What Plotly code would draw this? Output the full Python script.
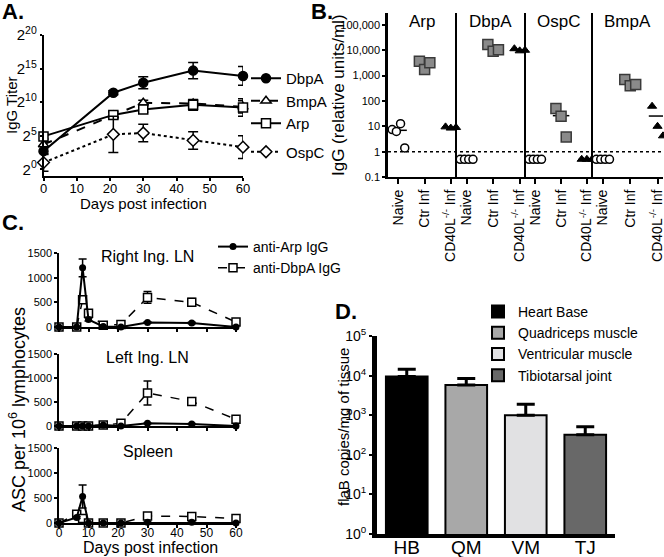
"""
Four panel figure: IgG titres over time (A), IgG per antigen and mouse group (B),
antibody secreting cells in lymph nodes / spleen (C) and flaB load per tissue (D).

Everything sits on one go.Figure. Panels get their own axes, placed in pixel
terms because the whole thing is a fixed 664x557 picture.
"""

import numpy as np
import plotly.graph_objects as go

W, H = 664, 557
FONT = "Liberation Sans, Arial, sans-serif"

# --- A: IgG titre (log2), days post infection ---
DAYS_A = [0, 21, 30, 45, 60]
DBPA_A = [2.7, 11.4, 12.9, 14.7, 13.9]
DBPA_A_SD = [0.5, 0.3, 0.9, 1.2, 1.4]
BMPA_A = [3.7, 8.0, 9.9, 9.8, 9.3]
BMPA_A_SD = [0.4, 0.5, 0.4, 0.5, 0.9]
ARP_A = [4.9, 8.1, 8.9, 9.6, 9.2]
ARP_A_SD = [0.4, 0.5, 0.4, 0.8, 1.3]
OSPC_A = [1.0, 5.2, 5.4, 4.3, 3.3]
OSPC_A_SD = [1.3, 2.7, 1.3, 1.3, 1.7]
LOG2_TICKS = [0, 5, 10, 15, 20]

# --- B: IgG (relative units/ml), one list per antigen inside each group ---
ANTIGENS_B = ["Arp", "DbpA", "OspC", "BmpA"]
GROUPS_B = ["Naive", "Ctr Inf", "CD40L<sup>-/-</sup> Inf"]
NAIVE_B = [[7.4, 6.3, 12.7, 1.4], [0.5, 0.5, 0.5, 0.5],
           [0.5, 0.5, 0.5, 0.5], [0.5, 0.5, 0.5, 0.5]]
CTR_B = [[3700, 1750, 3200], [17000, 9200, 10500], [50, 25, 3.8], [700, 400, 450]]
KO_B = [[9.5, 8.5, 9.0], [11500, 9500, 10000], [0.5, 0.5, 0.5], [62, 10, 4.2]]
DETECTION_LIMIT = 1
IGG_TICKS = [0.1, 1, 10, 100, 1000, 10000, 100000]
IGG_TICKTEXT = ["0.1", "1", "10", "100", "1,000", "10,000", "100,000"]

# --- C: ASC per 10^6 lymphocytes ---
DAYS_C = [0, 6, 8, 10, 15, 21, 30, 45, 60]
ORGANS_C = ["Right Ing. LN", "Left Ing. LN", "Spleen"]
RIGHT_ARP = [0, 0, 1200, 150, 10, 0, 90, 80, 0]
RIGHT_ARP_ERR = [0, 0, 180, 30, 5, 0, 15, 15, 0]
RIGHT_DBPA = [0, 0, 550, 280, 35, 50, 600, 500, 100]
RIGHT_DBPA_ERR = [0, 0, 60, 50, 10, 10, 120, 80, 20]
LEFT_ARP = [0, 0, 0, 0, 20, 0, 55, 40, 0]
LEFT_ARP_ERR = [0, 0, 0, 0, 5, 0, 10, 10, 0]
LEFT_DBPA = [0, 0, 0, 0, 20, 55, 690, 510, 140]
LEFT_DBPA_ERR = [0, 0, 0, 0, 5, 10, 250, 60, 25]
SPLEEN_ARP = [0, 110, 530, 0, 0, 0, 15, 15, 0]
SPLEEN_ARP_ERR = [0, 20, 230, 0, 0, 0, 5, 5, 0]
SPLEEN_DBPA = [0, 175, 90, 0, 0, 0, 140, 130, 90]
SPLEEN_DBPA_ERR = [0, 20, 20, 0, 0, 0, 10, 10, 10]

# --- D: flaB copies/mg of tissue ---
TISSUES = ["Heart Base", "Quadriceps muscle", "Ventricular muscle", "Tibiotarsal joint"]
TISSUE_CODES = ["HB", "QM", "VM", "TJ"]
FLAB = [9500, 5800, 1000, 320]
FLAB_SEM = [5000, 2700, 900, 190]
TISSUE_COLORS = ["#000000", "#a8a8a8", "#e1e1e3", "#686868"]

# horizontal spread of dots inside one category of panel B
JITTER = {3: [-0.2, 0.0, 0.2], 4: [-0.24, -0.08, 0.08, 0.24]}


def px_x(p):
    return p / W


def px_y(p):
    return 1 - p / H


def dom_x(left, right):
    return [px_x(left), px_x(right)]


def dom_y(top, bottom):
    return [px_y(bottom), px_y(top)]


def axis(size, **kw):
    d = dict(showgrid=False, zeroline=False, showline=True, linecolor="black",
             linewidth=1.5, ticks="outside", tickcolor="black", tickwidth=1.5,
             ticklen=4, tickfont=dict(family=FONT, size=size, color="black"))
    d.update(kw)
    return d


def note(text, x, y, size, **kw):
    d = dict(text=text, x=px_x(x), y=px_y(y), xref="paper", yref="paper",
             showarrow=False, xanchor="center", yanchor="middle",
             font=dict(family=FONT, size=size, color="black"))
    d.update(kw)
    return d


fig = go.Figure()
layout = {}
notes = []
shapes = []

# ---------------- A ----------------
series_a = [
    ("DbpA", DBPA_A, DBPA_A_SD, "circle", "black", "solid", "a1"),
    ("BmpA", BMPA_A, BMPA_A_SD, "triangle-up", "white", "dash", "a1"),
    ("Arp", ARP_A, ARP_A_SD, "square", "white", "solid", "a1"),
    ("OspC", OSPC_A, OSPC_A_SD, "diamond", "white", "dot", "a2"),
]
for name, y, sd, sym, fill, dash, grp in series_a:
    fig.add_trace(go.Scatter(
        x=DAYS_A, y=y, name=name, mode="lines+markers",
        error_y=dict(type="data", array=sd, color="black", thickness=1.5, width=5),
        line=dict(color="black", width=2, dash=dash),
        marker=dict(symbol=sym, size=9, color=fill, line=dict(color="black", width=1.5)),
        xaxis="x", yaxis="y", legend="legend", legendgroup=grp, cliponaxis=False,
    ))
layout["xaxis"] = axis(13, domain=dom_x(43.5, 243), range=[0, 60], anchor="y",
                       tick0=0, dtick=10, ticklen=3, ticklabelstandoff=-3)
layout["yaxis"] = axis(15, domain=dom_y(35, 176), range=[-1, 20], anchor="x",
                       tickvals=LOG2_TICKS, ticklen=2,
                       ticktext=[f"2<sup>{t}</sup>" for t in LOG2_TICKS])
notes.append(note("IgG Titer", 11, 105, 15, textangle=-90))
notes.append(note("Days post infection", 143, 204, 15))

# ---------------- B ----------------
b_domains = [(388, 456), (456, 525), (525, 592), (592, 663)]
group_marker = [
    dict(symbol="circle", size=8, color="white", line=dict(color="black", width=1.5)),
    dict(symbol="square", size=10, color="#8a8a8a", line=dict(color="#3a3a3a", width=1.5)),
    dict(symbol="triangle-up", size=8, color="black", line=dict(color="black", width=1)),
]
for g, antigen in enumerate(ANTIGENS_B):
    xa = f"x{g + 2}"
    for i, vals in enumerate([NAIVE_B[g], CTR_B[g], KO_B[g]]):
        m = float(np.mean(vals))
        fig.add_trace(go.Scatter(
            x=[i - 0.32, i + 0.32], y=[m, m], mode="lines",
            line=dict(color="black", width=1.5), showlegend=False,
            xaxis=xa, yaxis="y2", hoverinfo="skip",
        ))
        fig.add_trace(go.Scatter(
            x=[i + j for j in JITTER[len(vals)]], y=vals, mode="markers",
            marker=group_marker[i], showlegend=False, xaxis=xa, yaxis="y2",
            cliponaxis=False,
        ))
    left, right = b_domains[g]
    layout[f"xaxis{g + 2}"] = axis(14, domain=dom_x(left, right), range=[-0.4, 2.2],
                                   anchor="y2", tickvals=[0, 1, 2],
                                   ticktext=GROUPS_B, tickangle=-90, linewidth=2,
                                   ticklen=5, ticklabeloverflow="allow")
    notes.append(dict(text=antigen, x=0.5, y=px_y(22), xref=f"x{g + 2} domain",
                      yref="paper", showarrow=False, xanchor="center",
                      yanchor="middle", font=dict(family=FONT, size=17, color="black")))
    if g > 0:
        shapes.append(dict(type="line", xref=f"x{g + 2} domain", yref="y2 domain",
                           x0=0, x1=0, y0=0, y1=1, line=dict(color="black", width=2)))
layout["yaxis2"] = axis(11, domain=dom_y(13, 177), type="log", range=[-1, 5.47],
                        anchor="x2", tickvals=IGG_TICKS, ticktext=IGG_TICKTEXT,
                        linewidth=2.5, ticklen=3)
shapes.append(dict(type="line", xref="paper", yref="y2",
                   x0=px_x(b_domains[0][0]), x1=px_x(b_domains[-1][1]),
                   y0=DETECTION_LIMIT, y1=DETECTION_LIMIT,
                   line=dict(color="black", width=1.5, dash="dot")))
notes.append(note("IgG (relative units/ml)", 339, 95, 17, textangle=-90))

# ---------------- C ----------------
c_rows = [(253, 327), (354, 426), (448, 523)]
c_data = [
    (RIGHT_ARP, RIGHT_ARP_ERR, RIGHT_DBPA, RIGHT_DBPA_ERR),
    (LEFT_ARP, LEFT_ARP_ERR, LEFT_DBPA, LEFT_DBPA_ERR),
    (SPLEEN_ARP, SPLEEN_ARP_ERR, SPLEEN_DBPA, SPLEEN_DBPA_ERR),
]
for k, (arp, arp_err, dbpa, dbpa_err) in enumerate(c_data):
    xa, ya = f"x{6 + k}", f"y{3 + k}"
    # DbpA first so the Arp circles sit on top of it, as in the original
    fig.add_trace(go.Scatter(
        x=DAYS_C, y=dbpa, name="anti-DbpA IgG", mode="lines+markers",
        error_y=dict(type="data", array=dbpa_err, color="black", thickness=1.5, width=4),
        line=dict(color="black", width=1.5, dash="dash"),
        marker=dict(symbol="square", size=8, color="white", line=dict(color="black", width=1.5)),
        xaxis=xa, yaxis=ya, legend="legend2", legendrank=2, showlegend=(k == 0),
        cliponaxis=False,
    ))
    fig.add_trace(go.Scatter(
        x=DAYS_C, y=arp, name="anti-Arp IgG", mode="lines+markers",
        error_y=dict(type="data", array=arp_err, color="black", thickness=1.5, width=4),
        line=dict(color="black", width=2),
        marker=dict(symbol="circle", size=7, color="black"),
        xaxis=xa, yaxis=ya, legend="legend2", legendrank=1, showlegend=(k == 0),
        cliponaxis=False,
    ))
    top, bottom = c_rows[k]
    layout[f"xaxis{6 + k}"] = axis(12, domain=dom_x(59, 236), range=[0, 60], anchor=ya,
                                   tick0=0, dtick=10, ticklen=3, ticklabelstandoff=-5,
                                   showticklabels=(k == 2))
    layout[f"yaxis{3 + k}"] = axis(11, domain=dom_y(top, bottom), range=[0, 1500],
                                   anchor=xa, tickvals=[0, 500, 1000, 1500], ticklen=3)
    notes.append(dict(text=ORGANS_C[k], x=0.5, y=px_y(top + 3), xref=f"x{6 + k} domain",
                      yref="paper", showarrow=False, xanchor="center",
                      yanchor="middle", font=dict(family=FONT, size=16, color="black")))
notes.append(note("ASC per 10<sup>6</sup> lymphocytes", 17, 410, 18, textangle=-90))
notes.append(note("Days post infection", 150, 547, 16))

# ---------------- D ----------------
for tissue, code, val, sem, col in zip(TISSUES, TISSUE_CODES, FLAB, FLAB_SEM, TISSUE_COLORS):
    fig.add_trace(go.Bar(
        x=[code], y=[val], name=tissue, width=0.7,
        marker=dict(color=col, line=dict(color="black", width=2)),
        error_y=dict(type="data", symmetric=False, array=[sem], arrayminus=[0],
                     color="black", thickness=3, width=9),
        xaxis="x9", yaxis="y6", legend="legend3",
    ))
layout["xaxis9"] = axis(19, domain=dom_x(377, 615), anchor="y6", ticks="",
                        linewidth=4, categoryorder="array", categoryarray=TISSUE_CODES,
                        ticklabelstandoff=-7)
layout["yaxis6"] = axis(14, domain=dom_y(336, 534), type="log", range=[0, 5], anchor="x9",
                        tickvals=[10 ** e for e in range(6)],
                        ticktext=[f"10<sup>{e}</sup>" for e in range(6)],
                        linewidth=5, ticklen=3)
notes.append(note("flaB copies/mg of tissue", 343, 427, 15, textangle=-90))

# panel letters
for letter, x, y in [("A.", 13, 11), ("B.", 322, 11), ("C.", 13, 222), ("D.", 346, 311)]:
    notes.append(note(f"<b>{letter}</b>", x, y, 22))

legend_font = dict(family=FONT, color="black")
fig.update_layout(
    width=W, height=H, autosize=False, margin=dict(l=0, r=0, t=0, b=0),
    paper_bgcolor="white", plot_bgcolor="white", template="none",
    barmode="overlay", showlegend=True,
    font=dict(family=FONT, color="black"),
    legend=dict(x=px_x(246), y=px_y(62), xanchor="left", yanchor="top",
                font=dict(legend_font, size=15), bgcolor="rgba(0,0,0,0)",
                tracegroupgap=6, itemwidth=30),
    legend2=dict(x=px_x(213), y=px_y(231), xanchor="left", yanchor="top",
                 font=dict(legend_font, size=14), bgcolor="rgba(0,0,0,0)",
                 itemwidth=30),
    legend3=dict(x=px_x(478), y=px_y(296), xanchor="left", yanchor="top",
                 font=dict(legend_font, size=14), bgcolor="rgba(0,0,0,0)",
                 itemwidth=30),
    annotations=notes, shapes=shapes,
    **layout,
)

# the page body keeps its default 8px margin otherwise, which shifts the whole figure
fig.write_html("out.html", config={"displayModeBar": False},
               post_script="document.body.style.margin = '0';")
